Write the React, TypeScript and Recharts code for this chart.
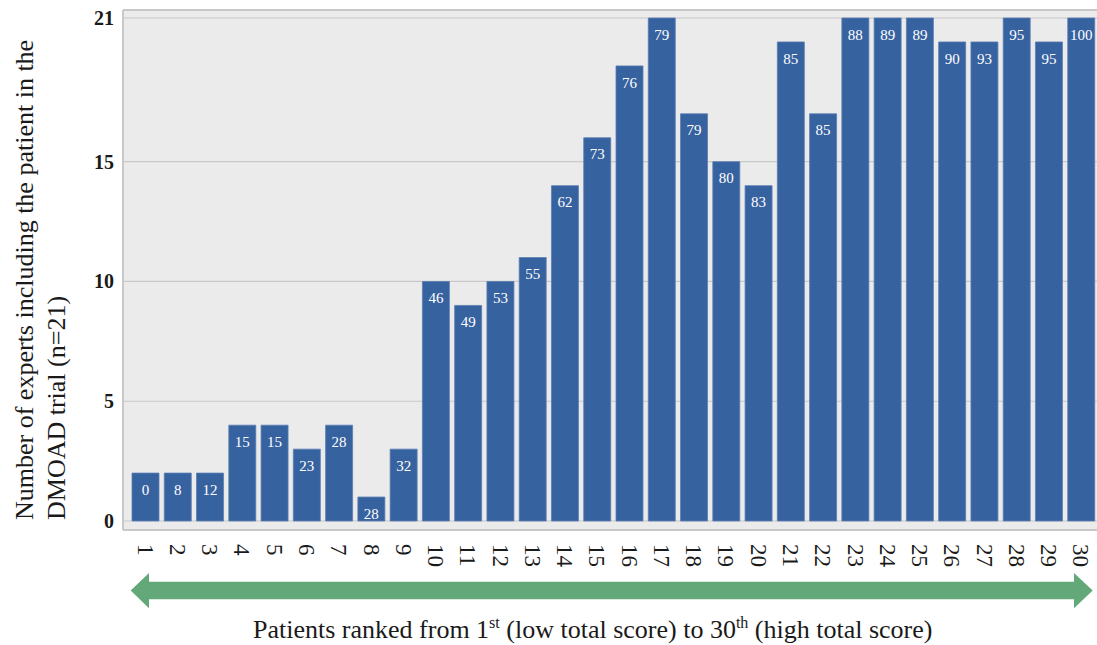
import React from 'react';
import { BarChart, Bar, XAxis, YAxis, CartesianGrid, LabelList, ReferenceLine } from 'recharts';

const patients = ['1','2','3','4','5','6','7','8','9','10','11','12','13','14','15','16','17','18','19','20','21','22','23','24','25','26','27','28','29','30'];
const expertCounts = [2,2,2,4,4,3,4,1,3,10,9,10,11,14,16,19,21,17,15,14,20,17,21,21,21,20,20,21,20,21];
const totalScores = [0,8,12,15,15,23,28,28,32,46,49,53,55,62,73,76,79,79,80,83,85,85,88,89,89,90,93,95,95,100];
const yTicks = [0,5,10,15,21];
const yDomain: [number, number] = [-0.376, 21.334];

const data = patients.map((p, i) => ({ patient: p, experts: expertCounts[i], score: totalScores[i] }));

const FONT = "'Liberation Serif', 'Times New Roman', Times, serif";

const XTick = (props: any) => {
  const { x, y, payload } = props;
  return (
    <text
      transform={`translate(${x},${y + 14}) rotate(90)`}
      textAnchor="start"
      dominantBaseline="central"
      style={{ fontFamily: FONT, fontSize: 23 }}
      fill="#1a1a1a"
    >
      {payload.value}
    </text>
  );
};

const YTick = (props: any) => {
  const { x, y, payload } = props;
  return (
    <text
      x={x - 9}
      y={y}
      textAnchor="end"
      dominantBaseline="central"
      style={{ fontFamily: FONT, fontSize: 20, fontWeight: 'bold' }}
      fill="#1a1a1a"
    >
      {payload.value}
    </text>
  );
};

export default function App() {
  return (
    <div style={{ position: 'fixed', left: 0, top: 0, width: 1097, height: 645, overflow: 'hidden', background: '#fff' }}>
      <BarChart
        width={1112}
        height={645}
        data={data}
        margin={{ top: 10, right: 10, bottom: 0, left: 0 }}
      >
        <CartesianGrid vertical={false} fill="#ebebeb" stroke="#c8c8c8" strokeWidth={1.2} />
        <XAxis
          dataKey="patient"
          height={115}
          padding={{ left: 6, right: 5 }}
          tickLine={false}
          tickSize={0}
          tickMargin={0}
          axisLine={{ stroke: '#c8c8c8', strokeWidth: 2 }}
          tick={<XTick />}
          interval={0}
        />
        <YAxis
          type="number"
          domain={yDomain}
          ticks={yTicks}
          allowDataOverflow
          width={123}
          tickLine={false}
          tickSize={0}
          tickMargin={0}
          axisLine={{ stroke: '#c8c8c8', strokeWidth: 2 }}
          tick={<YTick />}
          interval={0}
        />
        <ReferenceLine y={yDomain[1]} stroke="#c8c8c8" strokeWidth={2} />
        <Bar dataKey="experts" fill="#3762a0" stroke="#5a7db2" strokeWidth={0.8} barSize={27} isAnimationActive={false}>
          <LabelList
            dataKey="score"
            position="insideTop"
            offset={11}
            fill="#ffffff"
            style={{ fontFamily: FONT, fontSize: 15 }}
            fontSize={15}
            fontFamily={FONT}
          />
        </Bar>
      </BarChart>
      <svg
        width={1097}
        height={645}
        style={{ position: 'absolute', left: 0, top: 0, pointerEvents: 'none' }}
      >
        <polygon
          points="130.7,590.5 149,573 149,581.7 1074,581.7 1074,573 1092.7,590.5 1074,608.3 1074,599.3 149,599.3 149,608.3"
          fill="#63a879"
        />
        <text x={253} y={638} style={{ fontFamily: FONT, fontSize: 26 }} fill="#1a1a1a">
          Patients ranked from 1
          <tspan style={{ fontSize: 16 }} dy={-10}>st</tspan>
          <tspan dy={10}> (low total score) to 30</tspan>
          <tspan style={{ fontSize: 16 }} dy={-10}>th</tspan>
          <tspan dy={10}> (high total score)</tspan>
        </text>
        <text transform="translate(33,520) rotate(-90)" style={{ fontFamily: FONT, fontSize: 26 }} fill="#1a1a1a">
          Number of experts including the patient in the
        </text>
        <text transform="translate(65,520) rotate(-90)" style={{ fontFamily: FONT, fontSize: 26 }} fill="#1a1a1a">
          DMOAD trial (n=21)
        </text>
      </svg>
    </div>
  );
}
